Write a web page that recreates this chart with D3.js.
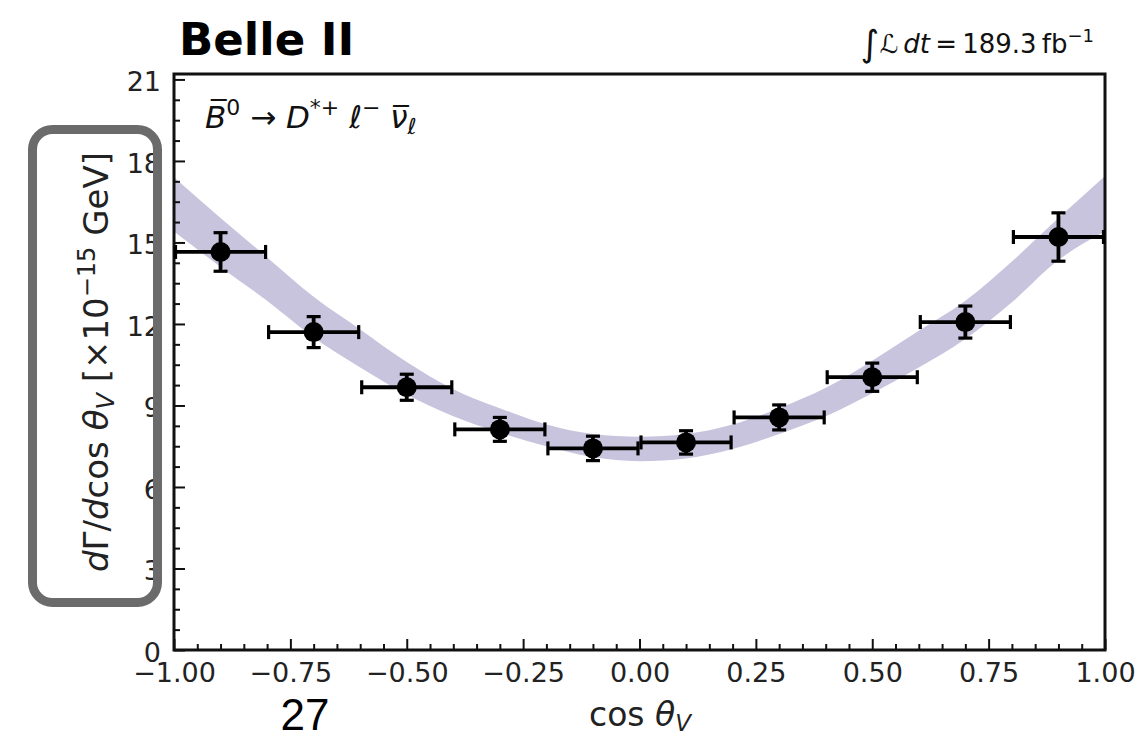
<!DOCTYPE html>
<html>
<head>
<meta charset="utf-8">
<script src="https://cdn.jsdelivr.net/npm/d3@7"></script>
<style>
  html, body { margin: 0; padding: 0; background: #fff; }
  svg { display: block; }
</style>
</head>
<body>
<svg id="chart" width="1143" height="736"></svg>
<script>
// Measured differential decay rate in bins of cos(theta_V)
const binEdges   = [-1.0, -0.8, -0.6, -0.4, -0.2, 0.0, 0.2, 0.4, 0.6, 0.8, 1.0];
const rate       = [14.65, 11.70, 9.67, 8.12, 7.42, 7.64, 8.56, 10.04, 12.07, 15.20];
const rateErr    = [0.71, 0.57, 0.48, 0.44, 0.45, 0.43, 0.46, 0.52, 0.59, 0.89];

// Prediction band (lower / upper edge) along cos(theta_V)
const bandCos    = [-1.0, -0.9, -0.8, -0.7, -0.6, -0.5, -0.4, -0.3, -0.2, -0.1, 0.0,
                     0.1, 0.2, 0.3, 0.4, 0.5, 0.6, 0.7, 0.8, 0.9, 1.0];
const bandLow    = [15.4, 14.1, 12.85, 11.5, 10.4, 9.4, 8.6, 8.0, 7.5, 7.1, 6.95,
                    7.05, 7.4, 7.95, 8.6, 9.45, 10.4, 11.45, 12.8, 14.35, 15.4];
const bandHigh   = [17.4, 15.9, 14.45, 13.0, 11.8, 10.6, 9.6, 8.9, 8.3, 7.95, 7.85,
                    7.95, 8.3, 8.9, 9.65, 10.65, 11.75, 12.85, 14.3, 15.9, 17.45];

// Axis ticks
const xMajorTicks = [-1.0, -0.75, -0.5, -0.25, 0.0, 0.25, 0.5, 0.75, 1.0];
const yMajorTicks = [0, 3, 6, 9, 12, 15, 18, 21];
const xMinorTicks = d3.range(-100, 101, 5).map(v => v / 100);
const yMinorTicks = d3.range(0, 21.01, 0.75);

const svg = d3.select("#chart");
const plotL = 174, plotR = 1105, plotT = 74, plotB = 650;

const x = d3.scaleLinear().domain([-1, 1]).range([plotL, plotR]);
const y = d3.scaleLinear().domain([0, 21.2]).range([plotB, plotT]);

svg.append("defs").append("clipPath").attr("id", "plotClip")
  .append("rect").attr("x", plotL).attr("y", plotT)
  .attr("width", plotR - plotL).attr("height", plotB - plotT);

// Prediction band
const bandData = bandCos.map((c, i) => ({ c, lo: bandLow[i], hi: bandHigh[i] }));
svg.append("path")
  .datum(bandData)
  .attr("clip-path", "url(#plotClip)")
  .attr("fill", "#c8c4de")
  .attr("d", d3.area()
    .x(d => x(d.c))
    .y0(d => y(d.lo))
    .y1(d => y(d.hi))
    .curve(d3.curveMonotoneX));

// Axes with inward ticks
const fontTick = "'DejaVu Sans', sans-serif";
const xAxis = svg.append("g").attr("transform", `translate(0,${plotB})`)
  .call(d3.axisBottom(x).tickValues(xMajorTicks).tickSize(-11).tickPadding(12)
    .tickFormat(d3.format(".2f")));
svg.append("g").attr("transform", `translate(0,${plotB})`)
  .call(d3.axisBottom(x).tickValues(xMinorTicks.filter(v => !xMajorTicks.some(m => Math.abs(m - v) < 1e-9)))
    .tickSize(-6).tickFormat(""));
const yAxis = svg.append("g").attr("transform", `translate(${plotL},0)`)
  .call(d3.axisLeft(y).tickValues(yMajorTicks).tickSize(-11).tickPadding(13)
    .tickFormat(d3.format("d")));
svg.append("g").attr("transform", `translate(${plotL},0)`)
  .call(d3.axisLeft(y).tickValues(yMinorTicks.filter(v => v % 3 !== 0))
    .tickSize(-6).tickFormat(""));

svg.selectAll(".domain").remove();
svg.selectAll(".tick line").attr("stroke", "#111").attr("stroke-width", 2);
svg.selectAll(".tick text").attr("fill", "#222")
  .style("font-family", fontTick).style("font-size", "27px");
yAxis.selectAll(".tick text").attr("dy", "0.42em");
xAxis.selectAll(".tick text").attr("dy", "0.75em");

// Frame
svg.append("rect")
  .attr("x", plotL).attr("y", plotT)
  .attr("width", plotR - plotL).attr("height", plotB - plotT)
  .attr("fill", "none").attr("stroke", "#111").attr("stroke-width", 3);

// Data points with error bars
const points = rate.map((v, i) => ({
  lo: binEdges[i], hi: binEdges[i + 1], c: (binEdges[i] + binEdges[i + 1]) / 2, v, e: rateErr[i]
}));
const cap = 7;
const g = svg.append("g").attr("stroke", "#000").attr("stroke-width", 3.8).attr("fill", "#000");
points.forEach(p => {
  const cx = x(p.c), cy = y(p.v);
  // horizontal bar and caps
  g.append("line").attr("x1", x(p.lo) + 1.5).attr("x2", x(p.hi) - 1.5).attr("y1", cy).attr("y2", cy);
  g.append("line").attr("x1", x(p.lo) + 1.5).attr("x2", x(p.lo) + 1.5).attr("y1", cy - cap).attr("y2", cy + cap).attr("stroke-width", 3.2);
  g.append("line").attr("x1", x(p.hi) - 1.5).attr("x2", x(p.hi) - 1.5).attr("y1", cy - cap).attr("y2", cy + cap).attr("stroke-width", 3.2);
  // vertical bar and caps
  g.append("line").attr("x1", cx).attr("x2", cx).attr("y1", y(p.v + p.e)).attr("y2", y(p.v - p.e));
  g.append("line").attr("x1", cx - cap).attr("x2", cx + cap).attr("y1", y(p.v + p.e)).attr("y2", y(p.v + p.e)).attr("stroke-width", 3.2);
  g.append("line").attr("x1", cx - cap).attr("x2", cx + cap).attr("y1", y(p.v - p.e)).attr("y2", y(p.v - p.e)).attr("stroke-width", 3.2);
  g.append("circle").attr("cx", cx).attr("cy", cy).attr("r", 10).attr("stroke", "none");
});

// Title and annotations
svg.append("text").attr("x", 179).attr("y", 55)
  .attr("font-family", "'DejaVu Sans', sans-serif").attr("font-weight", "bold")
  .attr("font-size", 45).attr("fill", "#000")
  .text("Belle II");

const lumi = svg.append("text").attr("x", 1094).attr("y", 53).attr("text-anchor", "end")
  .attr("font-family", "'DejaVu Sans', sans-serif").attr("font-size", 26).attr("fill", "#111");
lumi.append("tspan").attr("font-size", 36).attr("dy", 3).text("\u222B");
lumi.append("tspan").attr("dy", -3).attr("font-style", "italic").text("\u2112\u2009dt");
lumi.append("tspan").text("\u2009=\u2009189.3\u2009fb");
lumi.append("tspan").attr("font-size", 18).attr("dy", -11).text("\u22121");

const decay = svg.append("text").attr("x", 205).attr("y", 128)
  .attr("font-family", "'DejaVu Sans', sans-serif").attr("font-size", 31).attr("fill", "#111");
decay.append("tspan").attr("font-style", "italic").text("B\u0305");
decay.append("tspan").attr("font-size", 22).attr("dy", -13).text("0");
decay.append("tspan").attr("dy", 13).text(" \u2192 ");
decay.append("tspan").attr("font-style", "italic").text("D");
decay.append("tspan").attr("font-size", 22).attr("dy", -13).text("*+");
decay.append("tspan").attr("dy", 13).attr("font-style", "italic").text(" \u2113");
decay.append("tspan").attr("font-size", 22).attr("dy", -13).text("\u2212");
decay.append("tspan").attr("dy", 13).attr("font-style", "italic").text(" \u03BD\u0305");
decay.append("tspan").attr("font-size", 22).attr("dy", 6).attr("font-style", "italic").text("\u2113");

// x-axis title
const xt = svg.append("text").attr("x", 640).attr("y", 726).attr("text-anchor", "middle")
  .attr("font-family", "'DejaVu Sans', sans-serif").attr("font-size", 33).attr("fill", "#222");
xt.append("tspan").text("cos ");
xt.append("tspan").attr("font-style", "italic").text("\u03B8");
xt.append("tspan").attr("font-style", "italic").attr("font-size", 23).attr("dy", 5).text("V");

// y-axis title
const yt = svg.append("text").attr("transform", "translate(108,362) rotate(-90)")
  .attr("text-anchor", "middle")
  .attr("font-family", "'DejaVu Sans', sans-serif").attr("font-size", 34).attr("fill", "#222");
yt.append("tspan").attr("font-style", "italic").text("d");
yt.append("tspan").text("\u0393/");
yt.append("tspan").attr("font-style", "italic").text("d");
yt.append("tspan").text("cos ");
yt.append("tspan").attr("font-style", "italic").text("\u03B8");
yt.append("tspan").attr("font-style", "italic").attr("font-size", 24).attr("dy", 6).text("V");
yt.append("tspan").attr("dy", -6).text(" [\u00D710");
yt.append("tspan").attr("font-size", 24).attr("dy", -13).text("\u221215");
yt.append("tspan").attr("dy", 13).text(" GeV]");

// Highlight box around the y-axis title
svg.append("rect").attr("x", 32.5).attr("y", 129.5).attr("width", 125).attr("height", 473)
  .attr("rx", 20).attr("ry", 20)
  .attr("fill", "none").attr("stroke", "#6b6b6b").attr("stroke-width", 9);

// Page number
svg.append("text").attr("x", 305).attr("y", 730).attr("text-anchor", "middle")
  .attr("font-family", "'Liberation Sans', Arial, sans-serif").attr("font-size", 44).attr("fill", "#000")
  .text("27");
</script>
</body>
</html>
